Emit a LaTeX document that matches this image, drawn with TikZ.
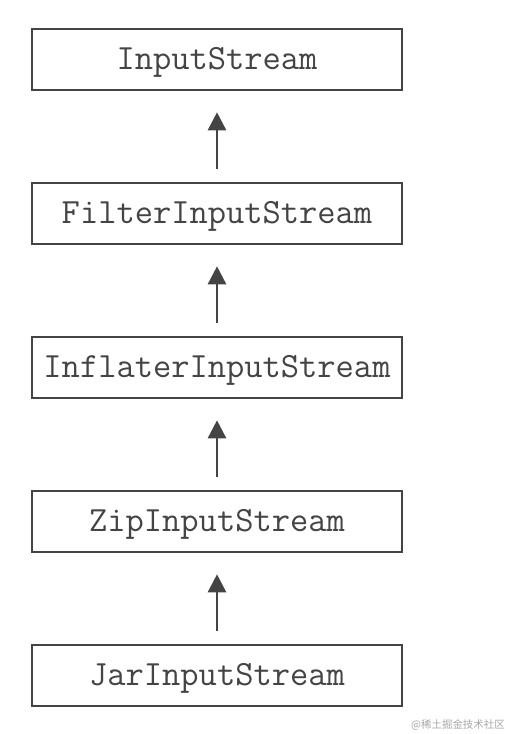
\documentclass[tikz,border=0pt]{standalone}
\usepackage{fontspec}
\newfontfamily\cjkfont{Noto Sans CJK SC}
\usetikzlibrary{arrows.meta}
\definecolor{ink}{HTML}{444444}
\definecolor{wm}{HTML}{A8A8A8}
\begin{document}
\begin{tikzpicture}[x=1bp,y=-1bp,
  cls/.style={draw=ink, line width=2.6bp, minimum width=370bp, minimum height=61bp, inner sep=0pt,
    text height=20.5bp, text depth=0bp,
    text=ink, font=\ttfamily\fontsize{35.6}{35.6}\selectfont},
  inh/.style={draw=ink, line width=2.6bp, -{Triangle[width=18bp,length=18bp]}, shorten <=13bp, shorten >=21bp}]
\useasboundingbox[fill=white] (0,0) rectangle (510,734);
\node[cls] (a) at (217,59.5) {InputStream};
\node[cls] (b) at (217,213.5) {FilterInputStream};
\node[cls] (c) at (217,367.5) {InflaterInputStream};
\node[cls] (d) at (217,521.5) {ZipInputStream};
\node[cls] (e) at (217,675.5) {JarInputStream};
\draw[inh] (b) -- (a);
\draw[inh] (c) -- (b);
\draw[inh] (d) -- (c);
\draw[inh] (e) -- (d);
\node[text=wm, font=\cjkfont\fontsize{10.5}{10.5}\selectfont, anchor=east, inner sep=0pt] (w) at (505,725) {@稀土掘金技术社区};
\end{tikzpicture}
\end{document}
